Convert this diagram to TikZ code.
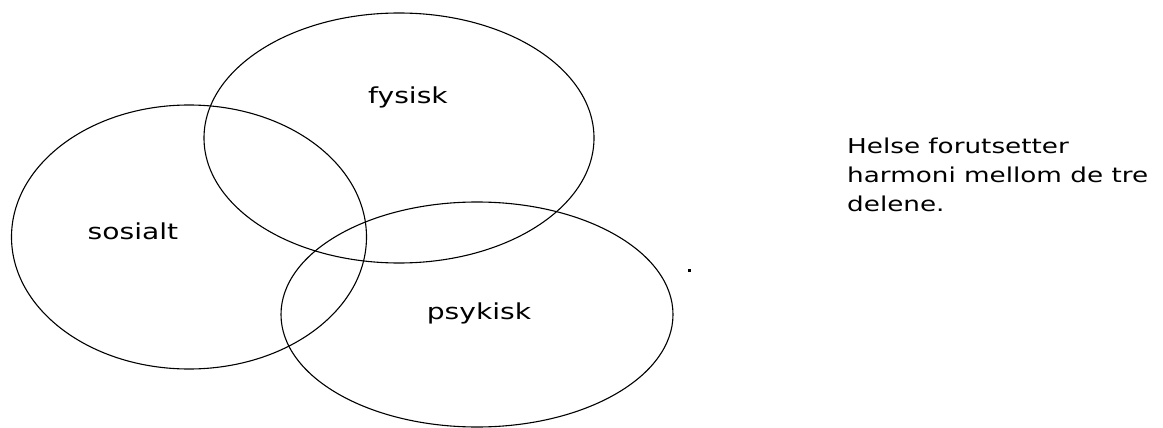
\documentclass[tikz,border=0pt]{standalone}
\usepackage{fontspec}
\newfontfamily\comic[FakeStretch=1.28]{DejaVu Sans}
\usetikzlibrary{shapes.geometric}
\begin{document}
\begin{tikzpicture}[x=1pt,y=-1pt,
  venn/.style={draw=black, line width=1.1pt, ellipse, inner sep=0pt},
  lbl/.style={font=\comic\fontsize{22}{26}\selectfont, text=black, inner sep=0pt},
  note/.style={font=\comic\fontsize{20.5}{29}\selectfont, text=black, inner sep=0pt, align=left, anchor=north west}]
\useasboundingbox (0,0) rectangle (1163,428);
\node[venn, minimum width=390pt, minimum height=250pt] (fys) at (399,138) {};
\node[venn, minimum width=355pt, minimum height=264pt] (sos) at (189,237) {};
\node[venn, minimum width=392pt, minimum height=225pt] (psy) at (477,314.5) {};
\node[lbl] (lfys) at (408,97) {fysisk};
\node[lbl] (lsos) at (133,231) {sosialt};
\node[lbl] (lpsy) at (479,313) {psykisk};
\node[note] (txt) at (847,138) {Helse forutsetter\\harmoni mellom de tre\\delene.};
\node[fill=black, minimum size=3pt, inner sep=0pt] (dot) at (689,270) {};
\end{tikzpicture}
\end{document}
